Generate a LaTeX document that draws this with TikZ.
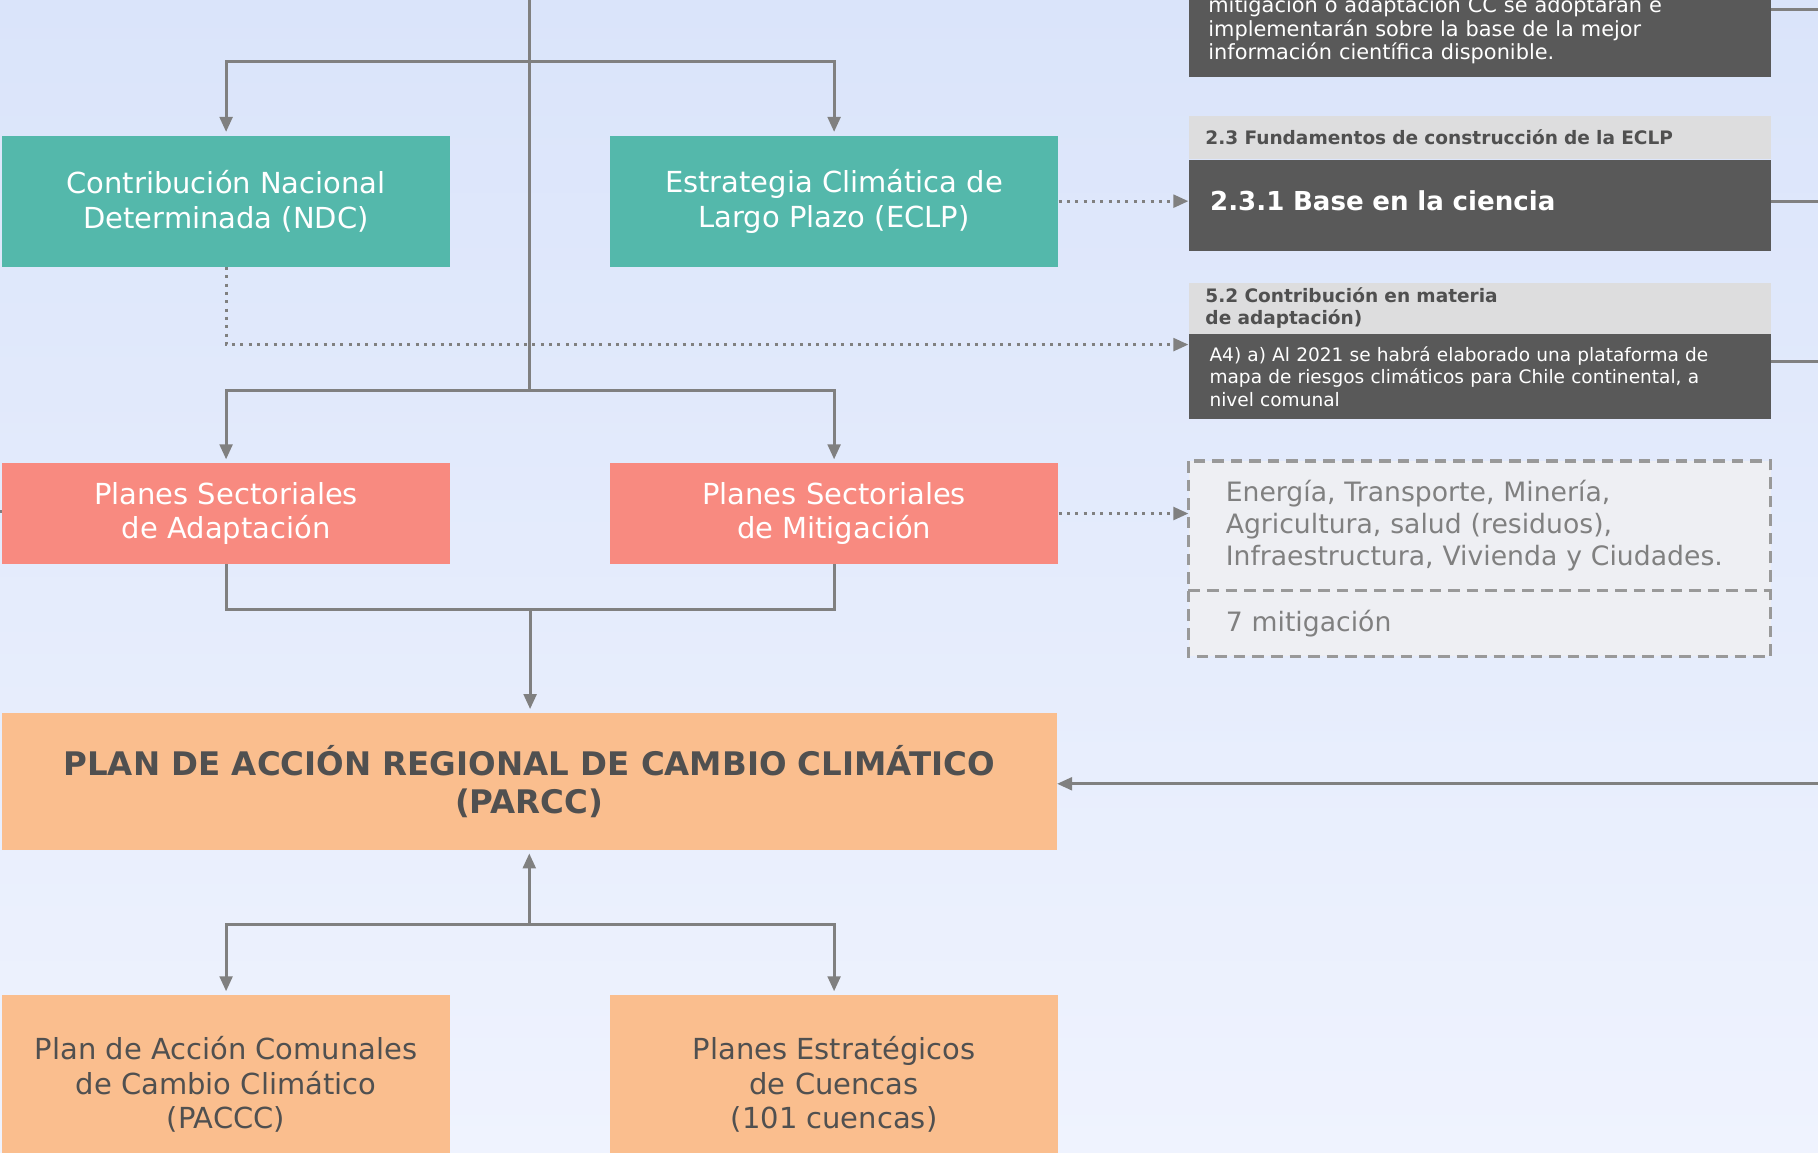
\documentclass[tikz,border=0pt]{standalone}
\usepackage{fontspec}
\setmainfont{DejaVu Sans}
\usetikzlibrary{positioning,calc,arrows.meta}

\definecolor{bgtop}{RGB}{218,228,250}
\definecolor{bgbottom}{RGB}{239,243,254}
\definecolor{ndcteal}{RGB}{84,184,171}
\definecolor{plansalmon}{RGB}{248,138,128}
\definecolor{parccorange}{RGB}{250,190,142}
\definecolor{darkfill}{RGB}{89,89,89}
\definecolor{headgray}{RGB}{221,221,222}
\definecolor{linegray}{RGB}{128,128,128}
\definecolor{textgray}{RGB}{80,80,80}
\definecolor{sectorfill}{RGB}{238,239,243}

\tikzset{
  >={Triangle[length=13pt,width=11pt]},
  conn/.style={draw=linegray, line width=2.6pt},
  arr/.style={conn, ->, shorten >=3pt},
  dotarr/.style={conn, ->, dash pattern=on 2.6pt off 4.6pt},
  dashframe/.style={draw=linegray!80, line width=2.6pt, dash pattern=on 10pt off 6pt},
  mainbox/.style={rectangle, inner sep=0pt, align=center, font=\fontsize{25}{30}\selectfont},
  greenbox/.style={mainbox, fill=ndcteal, text=white, minimum width=387pt, minimum height=113pt},
  redbox/.style={mainbox, fill=plansalmon, text=white, minimum width=387pt, minimum height=87pt},
  orangebox/.style={mainbox, fill=parccorange, text=textgray},
  headbox/.style={rectangle, fill=headgray, text=textgray, align=left, text width=473pt, inner xsep=14.5pt, inner ysep=0pt, font=\bfseries\fontsize{16}{19}\selectfont},
  darkbox/.style={rectangle, fill=darkfill, text=white, align=left, inner ysep=0pt},
  sectorbox/.style={rectangle, fill=sectorfill, text=linegray, align=left, text width=438pt, inner xsep=32pt, inner ysep=0pt, font=\fontsize{23}{28}\selectfont}
}

\begin{document}
\begin{tikzpicture}[x=1pt, y=-1pt, node distance=137pt]

    \clip (0,0) rectangle (1568,994);
    \fill [top color=bgtop, bottom color=bgbottom] (0,0) rectangle (1568,994);

        % Nodes
    \node (ndc) [greenbox] at (195,173.5) {Contribución Nacional\\Determinada (NDC)};
    \node (eclp) [greenbox, right=of ndc] {Estrategia Climática de\\Largo Plazo (ECLP)};
    \node (adapt) [redbox, below=169pt of ndc] {Planes Sectoriales\\de Adaptación};
    \node (mitig) [redbox, right=of adapt] {Planes Sectoriales\\de Mitigación};
    \node (parcc) [orangebox, minimum width=910pt, minimum height=118pt, font=\bfseries\fontsize{28}{33}\selectfont, below=128pt of adapt.south west, anchor=north west] {PLAN DE ACCIÓN REGIONAL DE CAMBIO CLIMÁTICO\\(PARCC)};
    \node (paccc) [orangebox, minimum width=387pt, minimum height=154pt, below=125pt of parcc.south west, anchor=north west] {Plan de Acción Comunales\\de Cambio Climático\\(PACCC)};
    \node (cuencas) [orangebox, minimum width=387pt, minimum height=154pt, right=of paccc] {Planes Estratégicos\\de Cuencas\\(101 cuencas)};

    \node (hdr23) [headbox, minimum height=37pt, anchor=north west] at (1025,100) {2.3 Fundamentos de construcción de la ECLP};
    \node (base) [darkbox, text width=465pt, inner xsep=18.5pt, minimum height=79pt, text depth=8pt, font=\bfseries\fontsize{22.5}{27}\selectfont, below=0pt of hdr23] {2.3.1 Base en la ciencia};
    \node (ciencia) [darkbox, text width=468pt, inner xsep=17pt, minimum height=82pt, font=\fontsize{18}{20.5}\selectfont, above=33pt of hdr23] {mitigación o adaptación CC se adoptarán e\\implementarán sobre la base de la mejor\\información científica disponible.};
    \node (hdr52) [headbox, minimum height=44pt, below=27pt of base] {5.2 Contribución en materia\\de adaptación)};
    \node (a4) [darkbox, text width=466pt, inner xsep=18pt, minimum height=73pt, font=\fontsize{16}{19}\selectfont, below=0pt of hdr52] {A4) a) Al 2021 se habrá elaborado una plataforma de\\mapa de riesgos climáticos para Chile continental, a\\nivel comunal};
    \node (sectores) [sectorbox, minimum height=111pt, below=36pt of a4] {Energía, Transporte, Minería,\\Agricultura, salud (residuos),\\Infraestructura, Vivienda y Ciudades.};
    \node (siete) [sectorbox, minimum height=57pt, below=0pt of sectores] {7 mitigación};
    \draw [dashframe] (sectores.north west) rectangle (siete.south east);
    \draw [dashframe] (sectores.south west) -- (sectores.south east);

        % Arrows
    \coordinate (top) at (457,0);
    \draw [arr] (top) -- ++(0,53) -| (ndc.north);
    \draw [arr] (top) -- ++(0,53) -| (eclp.north);
    \draw [arr] (top) -- ++(0,337) -| (adapt.north);
    \draw [arr] (top) -- ++(0,337) -| (mitig.north);

    \draw [dotarr] (eclp.east) -- (base.west |- eclp.east);
    \draw [dotarr] (ndc.south) |- ([yshift=-9pt]a4.north west);
    \draw [dotarr] (mitig.east) -- (sectores.west |- mitig.east);

    \coordinate (merge) at ($(adapt.south)!0.5!(mitig.south) + (0,39)$);
    \draw [conn] (adapt.south) |- (merge) -| (mitig.south);
    \draw [arr] (merge) -- (merge |- parcc.north);

    \coordinate (split) at ($(parcc.south) + (0,64)$);
    \draw [arr] (split) -- (parcc.south);
    \draw [arr] (split) -| (paccc.north);
    \draw [arr] (split) -| (cuencas.north);

    \coordinate (rin) at (1568,676);
    \draw [conn, ->] (rin) -- (parcc.east |- rin);
    \coordinate (rout1) at (1568,8);
    \draw [conn] (ciencia.east |- rout1) -- (rout1);
    \coordinate (rout2) at (1568,174);
    \draw [conn] (base.east |- rout2) -- (rout2);
    \coordinate (rout3) at (1568,312);
    \draw [conn] (a4.east |- rout3) -- (rout3);
    \coordinate (lin) at (0,441);
    \draw [conn] (lin) -- (adapt.west |- lin);

\end{tikzpicture}
\end{document}
